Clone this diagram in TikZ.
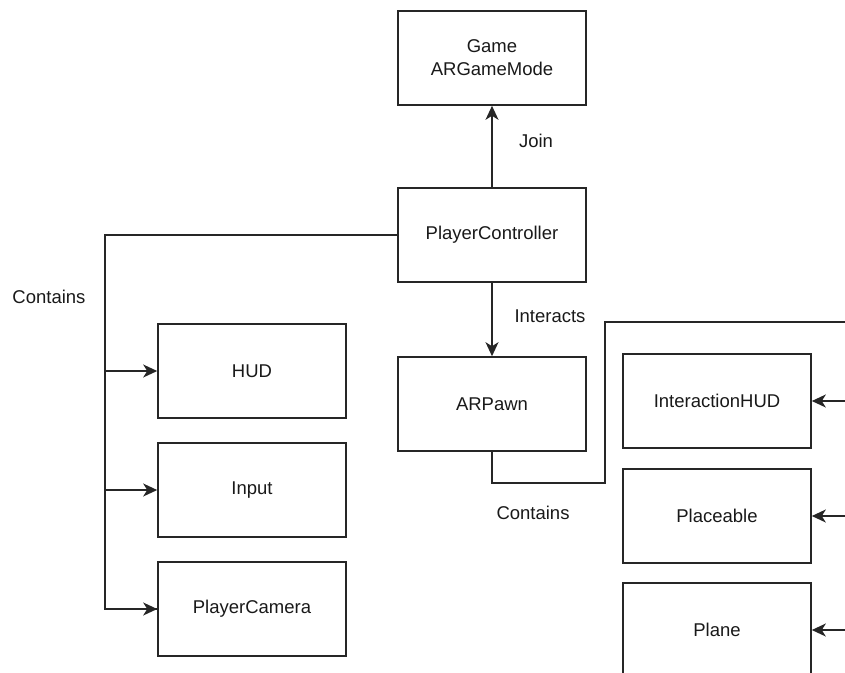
\documentclass[tikz,border=0pt]{standalone}
\usepackage{fontspec}
\setmainfont{Liberation Sans}
\usetikzlibrary{arrows.meta}
\begin{document}
\begin{tikzpicture}[x=1pt,y=-1pt,
  box/.style={draw=black!85, line width=1.6pt, minimum width=188pt, minimum height=94pt,
    inner sep=0pt, align=center, font=\fontsize{18.5}{23}\selectfont, text=black!90},
  lbl/.style={font=\fontsize{18.5}{23}\selectfont, text=black!90, inner sep=0pt},
  wire/.style={draw=black!85, line width=1.6pt},
  arr/.style={wire, -{Stealth[length=14pt, width=13pt, inset=4pt]}}]
  \useasboundingbox (0,0) rectangle (845,672);
  \clip (0,0) rectangle (845,672);

  % classes
  \node[box] (game) at (492,58) {Game\\ARGameMode};
  \node[box] (pc) at (492,235) {\raisebox{-2pt}{PlayerController}};
  \node[box] (pawn) at (492,404) {ARPawn};
  \node[box] (hud) at (252,371) {HUD};
  \node[box] (input) at (252,490) {\raisebox{-2pt}{Input}};
  \node[box] (cam) at (252,609) {\raisebox{-2pt}{PlayerCamera}};
  \node[box] (ihud) at (717,401) {InteractionHUD};
  \node[box] (place) at (717,516) {Placeable};
  \node[box] (plane) at (717,630) {Plane};

  % labels
  \node[lbl] (join) at (536,141) {Join};
  \node[lbl] (inter) at (550,316) {Interacts};
  \node[lbl] (cont1) at (49,297) {Contains};
  \node[lbl] (cont2) at (533,513) {Contains};

  % bend points
  \coordinate (lx) at (105,235);
  \coordinate (b1) at (492,483);
  \coordinate (b2) at (605,483);
  \coordinate (b3) at (605,322);
  \coordinate (b4) at (850,322);
  \coordinate (r1) at (850,401);
  \coordinate (r2) at (850,516);
  \coordinate (r3) at (850,630);

  % relations
  \draw[arr] (pc.north) -- (game.south);
  \draw[arr] (pc.south) -- (pawn.north);

  \draw[wire] (pc.west) -- (lx) |- (cam.west);
  \draw[arr] (lx |- hud.west) -- (hud.west);
  \draw[arr] (lx |- input.west) -- (input.west);
  \draw[arr] (lx |- cam.west) -- (cam.west);

  \draw[wire] (pawn.south) -- (b1) -- (b2) -- (b3) -- (b4);
  \draw[arr] (r1) -- (ihud.east);
  \draw[arr] (r2) -- (place.east);
  \draw[arr] (r3) -- (plane.east);
\end{tikzpicture}
\end{document}
